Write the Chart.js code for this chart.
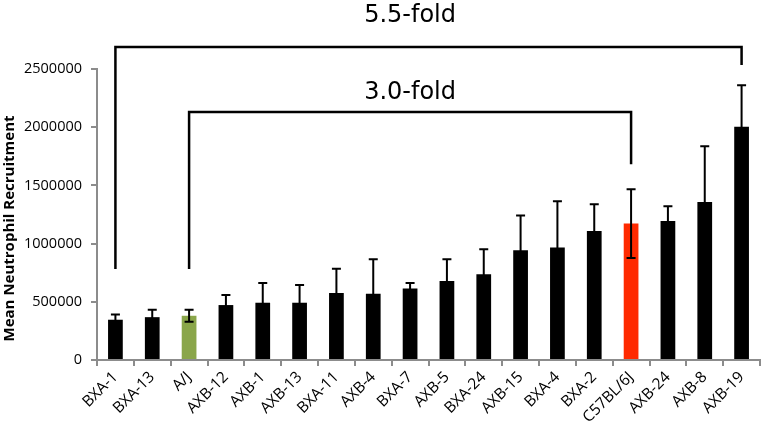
<!DOCTYPE html>
<html>
<head>
<meta charset="utf-8">
<script src="https://cdn.jsdelivr.net/npm/chart.js@4/dist/chart.umd.min.js"></script>
<style>
  html, body { margin: 0; padding: 0; background: #ffffff; }
  #wrap { width: 762px; height: 424px; position: relative; }
</style>
</head>
<body>
<div id="wrap"><canvas id="c" width="762" height="424"></canvas></div>
<script>
// ---- data ----
const categories = ["BXA-1","BXA-13","A/J","AXB-12","AXB-1","AXB-13","BXA-11","AXB-4","BXA-7","AXB-5","BXA-24","AXB-15","BXA-4","BXA-2","C57BL/6J","AXB-24","AXB-8","AXB-19"];
const meanValues = [346000, 368000, 380000, 472000, 492000, 492000, 575000, 570000, 615000, 678000, 736000, 942000, 966000, 1108000, 1172000, 1194000, 1358000, 2003000];
const errorValues = [45000, 64000, 51000, 86000, 169000, 152000, 210000, 295000, 46000, 187000, 215000, 299000, 398000, 230000, 295000, 127000, 479000, 357000];
const yTickValues = [0, 500000, 1000000, 1500000, 2000000, 2500000];
const yAxisTitle = "Mean Neutrophil Recruitment";
// brackets: [fromCategory, toCategory, topValue, leftBottomValue, rightBottomValue, label]
const outerBracket = ["BXA-1", "AXB-19", 2689000, 781000, 2534000, "5.5-fold"];
const innerBracket = ["A/J", "C57BL/6J", 2130000, 781000, 1682000, "3.0-fold"];
const bracketLabelValues = [2904000, 2242000];
const yTitleCenterValue = 1130000;

// ---- styles ----
const barColors = categories.map(c => c === "A/J" ? "#8aa64a" : (c === "C57BL/6J" ? "#ff2a00" : "#000000"));
const axisGray = "#8c8c8c";

const errorBarPlugin = {
  id: "errorBars",
  afterDatasetsDraw(chart) {
    const ctx = chart.ctx;
    const meta = chart.getDatasetMeta(0);
    const ys = chart.scales.y;
    ctx.save();
    ctx.strokeStyle = "#000";
    ctx.lineWidth = 2;
    meta.data.forEach((bar, i) => {
      const x = bar.x;
      const yt = ys.getPixelForValue(meanValues[i] + errorValues[i]);
      const yb = ys.getPixelForValue(meanValues[i] - errorValues[i]);
      ctx.beginPath();
      ctx.moveTo(x, yt); ctx.lineTo(x, yb);
      ctx.moveTo(x - 4.5, yt); ctx.lineTo(x + 4.5, yt);
      ctx.moveTo(x - 4.5, yb); ctx.lineTo(x + 4.5, yb);
      ctx.stroke();
    });
    ctx.restore();
  },
  afterDraw(chart) {
    const ctx = chart.ctx;
    const xs = chart.scales.x, ys = chart.scales.y;
    ctx.save();
    ctx.strokeStyle = "#000";
    ctx.lineWidth = 2.5;
    ctx.fillStyle = "#000";
    ctx.font = "24px 'DejaVu Sans'";
    ctx.textAlign = "center";
    ctx.textBaseline = "alphabetic";
    [outerBracket, innerBracket].forEach((b, k) => {
      const x1 = xs.getPixelForValue(categories.indexOf(b[0]));
      const x2 = xs.getPixelForValue(categories.indexOf(b[1]));
      const yTop = ys.getPixelForValue(b[2]);
      ctx.beginPath();
      ctx.moveTo(x1, ys.getPixelForValue(b[3]));
      ctx.lineTo(x1, yTop);
      ctx.lineTo(x2, yTop);
      ctx.lineTo(x2, ys.getPixelForValue(b[4]));
      ctx.stroke();
      ctx.fillText(b[5], xs.getPixelForValue(8), ys.getPixelForValue(bracketLabelValues[k]));
    });
    // y axis title
    ctx.font = "bold 15px 'Open Sans'";
    ctx.textBaseline = "middle";
    ctx.translate(10, ys.getPixelForValue(yTitleCenterValue));
    ctx.rotate(-Math.PI / 2);
    ctx.fillText(yAxisTitle, 0, 0);
    ctx.restore();
  }
};

new Chart(document.getElementById("c"), {
  type: "bar",
  data: {
    labels: categories,
    datasets: [{
      data: meanValues,
      backgroundColor: barColors,
      borderWidth: 0,
      categoryPercentage: 1.0,
      barPercentage: 0.4
    }]
  },
  options: {
    responsive: false,
    animation: false,
    devicePixelRatio: 1,
    layout: { padding: { top: 69, right: 2, left: 0, bottom: 0 } },
    plugins: { legend: { display: false }, tooltip: { enabled: false } },
    scales: {
      x: {
        grid: { drawOnChartArea: false, drawTicks: true, tickLength: 6, color: axisGray, lineWidth: 2, offset: true },
        border: { color: axisGray, width: 2 },
        ticks: { color: "#000", font: { family: "'Open Sans'", size: 15.5 }, minRotation: 45, maxRotation: 45, padding: 2, autoSkip: false },
        afterFit(scale) { scale.height = 64; }
      },
      y: {
        min: 0, max: 2500000,
        afterBuildTicks(scale) { scale.ticks = yTickValues.map(v => ({ value: v })); },
        grid: { drawOnChartArea: false, drawTicks: true, tickLength: 6, color: axisGray, lineWidth: 2 },
        border: { color: axisGray, width: 2 },
        ticks: { color: "#000", font: { family: "'Open Sans'", size: 14.5 }, padding: 9, callback: v => String(v) },
        title: { display: false },
        afterFit(scale) { scale.width = 97; }
      }
    }
  },
  plugins: [errorBarPlugin]
});
</script>
</body>
</html>
